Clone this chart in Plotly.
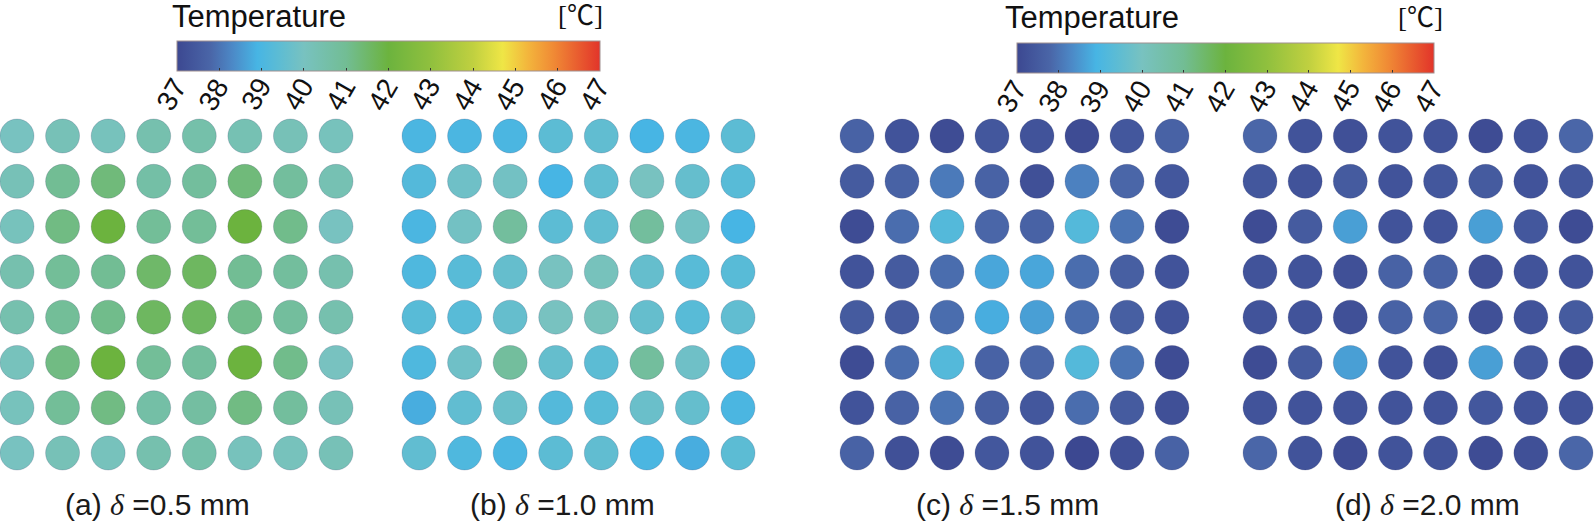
import plotly.graph_objects as go

W, H = 1594, 522

panel_a = [
    [40.0, 40.2, 40.1, 40.4, 40.5, 40.3, 40.2, 40.1],
    [40.2, 41.0, 41.3, 40.6, 40.8, 41.3, 40.8, 40.3],
    [40.1, 41.2, 42.0, 40.9, 40.9, 42.0, 41.1, 40.0],
    [40.4, 40.9, 41.0, 41.5, 41.6, 41.0, 40.8, 40.4],
    [40.4, 40.9, 41.1, 41.6, 41.6, 41.1, 40.8, 40.4],
    [40.1, 41.2, 42.0, 40.9, 40.8, 42.0, 41.1, 40.0],
    [40.1, 40.9, 41.2, 40.6, 40.7, 41.2, 40.8, 40.2],
    [40.0, 40.2, 40.1, 40.4, 40.5, 40.1, 40.1, 40.2],
]
panel_b = [
    [39.0, 39.0, 39.0, 39.4, 39.5, 38.9, 39.0, 39.4],
    [39.2, 39.8, 39.9, 38.9, 39.5, 40.0, 39.6, 39.3],
    [39.0, 39.9, 40.8, 39.4, 39.5, 40.8, 39.9, 38.9],
    [39.1, 39.3, 39.6, 40.0, 40.1, 39.6, 39.3, 39.3],
    [39.3, 39.3, 39.6, 40.0, 40.1, 39.6, 39.3, 39.5],
    [39.1, 39.8, 40.8, 39.6, 39.4, 40.8, 39.8, 39.0],
    [38.8, 39.5, 39.7, 39.2, 39.3, 39.7, 39.6, 39.0],
    [39.5, 39.1, 39.0, 39.4, 39.5, 39.0, 38.8, 39.4],
]
panel_c = [
    [37.7, 37.3, 37.1, 37.4, 37.3, 37.1, 37.4, 37.7],
    [37.5, 37.7, 38.1, 37.7, 37.2, 38.2, 37.8, 37.4],
    [37.1, 37.9, 39.2, 37.8, 37.7, 39.2, 38.0, 37.1],
    [37.3, 37.5, 37.9, 38.7, 38.7, 37.9, 37.6, 37.3],
    [37.5, 37.5, 37.9, 38.8, 38.6, 37.9, 37.6, 37.3],
    [37.1, 37.9, 39.2, 37.7, 37.8, 39.2, 38.0, 37.1],
    [37.3, 37.7, 38.0, 37.6, 37.4, 37.9, 37.5, 37.2],
    [37.7, 37.2, 37.1, 37.4, 37.3, 37.0, 37.2, 37.7],
]
panel_d = [
    [37.8, 37.3, 37.2, 37.3, 37.3, 37.1, 37.3, 37.8],
    [37.4, 37.3, 37.5, 37.3, 37.4, 37.5, 37.3, 37.4],
    [37.1, 37.5, 38.6, 37.3, 37.3, 38.6, 37.4, 37.1],
    [37.3, 37.3, 37.2, 37.7, 37.7, 37.2, 37.3, 37.3],
    [37.3, 37.3, 37.2, 37.7, 37.8, 37.2, 37.3, 37.5],
    [37.1, 37.5, 38.6, 37.3, 37.2, 38.6, 37.4, 37.1],
    [37.3, 37.3, 37.3, 37.3, 37.3, 37.4, 37.3, 37.3],
    [37.8, 37.3, 37.1, 37.3, 37.3, 37.1, 37.2, 37.8],
]
captions = ["(a) ", "(b) ", "(c) ", "(d) "]
deltas = ["0.5", "1.0", "1.5", "2.0"]
cbar_ticks = list(range(37, 48))

# colour ramp of the original legend, stops given in °C
ramp = [
    (37.0, "#3c4891"), (37.8, "#4a66a8"), (38.3, "#4c88c6"), (38.9, "#47b5e4"),
    (39.4, "#5cbcd4"), (40.0, "#78c2c0"), (41.0, "#72bd94"), (42.0, "#6cb33e"),
    (43.0, "#90c03e"), (44.0, "#c0d040"), (44.7, "#efe646"), (45.3, "#f3b53c"),
    (45.9, "#f08a35"), (47.0, "#e2342a"),
]
colorscale = [[(t - 37) / 10, c] for t, c in ramp]

# pixel placement of each array: first / last column centre
panel_x = [(17, 336), (419, 738), (857, 1172), (1260, 1576)]
row_top, row_bot = 136, 453
caption_left = [64, 469, 915, 1334]

fig = go.Figure()
layout = {}
for i, (vals, (x0, x1)) in enumerate(zip([panel_a, panel_b, panel_c, panel_d], panel_x)):
    n = "" if i == 0 else str(i + 1)
    xs, ys, zs = [], [], []
    for r, row in enumerate(vals):
        for c, v in enumerate(row):
            xs.append(c + 1)
            ys.append(r + 1)
            zs.append(v)
    fig.add_trace(go.Scatter(
        x=xs, y=ys, mode="markers", xaxis="x" + n, yaxis="y" + n,
        cliponaxis=False, showlegend=False, hoverinfo="skip",
        marker=dict(size=34, color=zs, coloraxis="coloraxis" if i < 2 else "coloraxis2",
                    line=dict(width=1, color="rgba(40,40,90,0.18)")),
    ))
    layout["xaxis" + n] = dict(domain=[x0 / W, x1 / W], range=[1, 8], visible=False)
    layout["yaxis" + n] = dict(domain=[1 - row_bot / H, 1 - row_top / H], range=[8, 1], visible=False)
    fig.add_annotation(
        x=caption_left[i] / W, y=1 - 504 / H, xref="paper", yref="paper",
        xanchor="left", yanchor="middle", showarrow=False, borderpad=0,
        text=captions[i] + "<i><span style=\"font-family:'Liberation Serif'\">δ</span></i> =" + deltas[i] + " mm",
        font=dict(size=30, family="Liberation Sans, Arial", color="#1a1a1a"),
    )


def cbar(x0, x1, top, thick):
    return dict(
        orientation="h", x=(x0 + x1) / 2 / W, xanchor="center",
        y=1 - top / H, yanchor="top", len=x1 - x0, lenmode="pixels",
        thickness=thick, thicknessmode="pixels", xpad=0, ypad=0,
        tickvals=cbar_ticks, ticks="inside", ticklen=3, tickcolor="#333",
        showticklabels=False,
        outlinewidth=1, outlinecolor="#a09090",
    )


# (bar left, bar right, bar top, thickness, title left, unit right, title mid-y)
bars = [(177, 600, 41, 30, 171, 604, 16), (1017, 1434, 43, 30, 1004, 1444, 18)]
layout["coloraxis"] = dict(cmin=37, cmax=47, colorscale=colorscale, colorbar=cbar(*bars[0][:4]))
layout["coloraxis2"] = dict(cmin=37, cmax=47, colorscale=colorscale, colorbar=cbar(*bars[1][:4]))

for x0, x1, top, thick, tx, ux, ty in bars:
    fig.add_annotation(x=tx / W, y=1 - ty / H, xref="paper", yref="paper", xanchor="left",
                       yanchor="middle", showarrow=False, text="Temperature", borderpad=0,
                       font=dict(size=31, family="Liberation Sans, Arial", color="#111"))
    fig.add_annotation(x=ux / W, y=1 - ty / H, xref="paper", yref="paper", xanchor="right",
                       yanchor="middle", showarrow=False, text="[℃]", borderpad=0,
                       font=dict(size=27, family="Liberation Serif, Noto Sans CJK SC", color="#111"))
    # rotated tick labels, their upper-right end sitting under each tick
    for t in cbar_ticks:
        px = x0 + (t - cbar_ticks[0]) * (x1 - x0) / (cbar_ticks[-1] - cbar_ticks[0])
        fig.add_annotation(x=(px + 17) / W, y=1 - (top + thick + 1) / H, xref="paper", yref="paper",
                           xanchor="right", yanchor="top", showarrow=False, text=str(t),
                           textangle=-60, borderpad=0,
                           font=dict(size=28, family="Liberation Sans, Arial", color="#111"))

fig.update_layout(
    **layout,
    width=W, height=H,
    margin=dict(l=0, r=0, t=0, b=0, autoexpand=False),
    paper_bgcolor="white", plot_bgcolor="white",
)

# drop the browser's default 8px page margin so the figure sits at the window corner
fig.write_html("out.html", config={"displayModeBar": False},
               post_script="document.body.style.margin='0';")
